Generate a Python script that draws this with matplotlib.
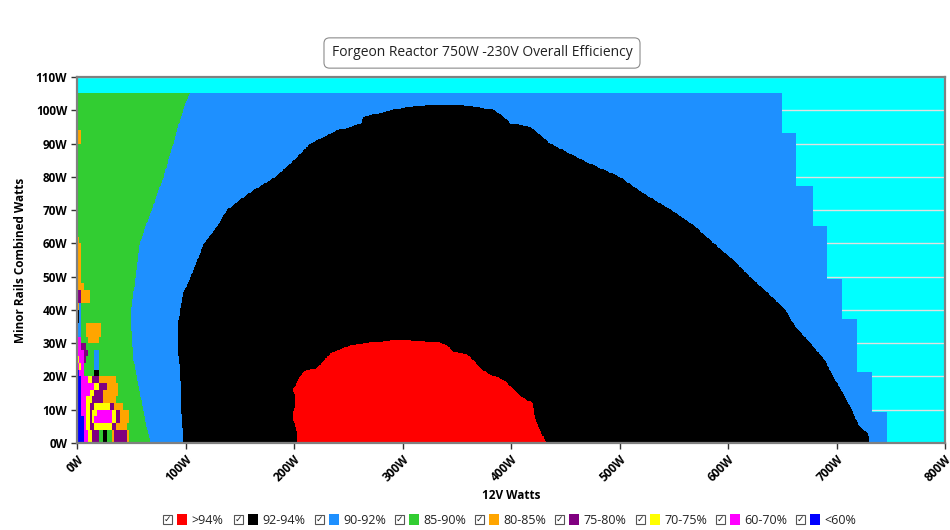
import numpy as np
import matplotlib
matplotlib.use('Agg')
import matplotlib.pyplot as plt
from matplotlib.colors import ListedColormap
from matplotlib.patches import Rectangle
from matplotlib.transforms import ScaledTranslation

plt.rcParams['font.family'] = ['Open Sans', 'DejaVu Sans']

title = 'Forgeon Reactor 750W -230V Overall Efficiency'

# efficiency bands, legend order
band_labels = ['>94%', '92-94%', '90-92%', '85-90%', '80-85%', '75-80%', '70-75%', '60-70%', '<60%']
band_colors = ['#FF0000', '#000000', '#1E90FF', '#32CD32', '#FFA500', '#800080', '#FFFF00', '#FF00FF', '#0000FF']
band_codes = 'RKBGOPYMN'

x_ticks = [0, 100, 200, 300, 400, 500, 600, 700, 800]
y_ticks = [0, 10, 20, 30, 40, 50, 60, 70, 80, 90, 100, 110]

# top of the measured area (minor rails W)
data_top = 105.3

# right edge of the measured area, stepped (step starts at edge_y)
edge_y = [0, 9.3, 21.3, 37.2, 49.2, 65.3, 77.3, 93.3]
edge_x = [747, 733, 719, 705, 691, 678, 663, 650]

# 85-90% -> 90-92% boundary
green_y = [0, 5, 10, 15, 20, 25, 30, 35, 40, 45, 50, 55, 60, 65, 70, 75, 80, 85, 90, 95, 100, 103, 105.3]
green_x = [68, 64, 61, 58, 55, 52, 51, 50, 50, 52, 54, 56, 58, 63, 69, 74, 80, 84, 89, 93, 98, 101, 104.5]

# 92-94% band, left and right edge per 12V level
black_y = [0, 3, 5, 10, 15, 20, 25, 30, 35, 40, 45, 50, 55, 60, 65, 70, 75, 80, 85, 90, 94, 95, 96, 98, 100, 101, 101.6]
black_left = [98, 98, 97, 96, 96, 95, 94, 93, 93, 95, 98, 105, 111, 117, 129, 138, 158, 183, 200, 215, 240, 252, 262, 264, 290, 304, 330]
black_right = [730, 729, 721, 714, 706, 697, 689, 676, 662, 653, 637, 620, 605, 587, 570, 548, 522, 500, 466, 436, 422, 418, 400, 393, 385, 369, 350]

# >94% band
red_y = [0, 3, 5, 8, 12, 14, 16, 19, 21, 22, 22.4, 25, 26.7, 27.4, 29.4, 30.4, 30.9]
red_left = [203, 203, 201, 199, 201, 201, 199, 204, 208, 212, 221, 228, 233, 236, 252, 276, 289]
red_right = [433, 428, 425, 422, 420, 409, 403, 393, 378, 374, 372, 365, 359, 347, 341, 332, 307]

# light-load corner, 2W x 2W cells, top row first ('.' = keep band above)
corner_rows = [
    'OO',        # 92-94
    'OO',        # 90-92
    '', '', '', '', '', '', '', '', '', '', '', '', '', '',
    'O',         # 60-62
    'OO', 'OO', 'OO', 'OO', 'OO', 'OO',
    'OOO',       # 46-48
    'PPOOOO',
    'PPOOOO',
    'OB',
    'KB',
    'KB',
    'BB..OOOOOOO',
    'BB..OOOOOOO',
    'MM...OOOOO',
    'MMPP',
    'MMMPP...BB',
    'YMMP....BB',
    'MYM.....BB',
    'NMM.....KK',
    'NNMMMYYPPPOOOOOOOO',
    'NNMMMMMMYYPPPPOOOOO',
    'NNMMMMYYPPPPOOOOOOO',
    'NNMMYYYPPPPPOOOOOO',
    'NNMMYYPPYYYYYYYPPOOOO',
    'NNMMYYPYYMMMMMMMYYPPOOOO',
    'NNNMYYPYMMMMMMMMYYPPOOOO',
    'NNNMYYPPYYYYYYYYPPOOOOO',
    'NNNMMYYPPPGGKKGGOPPPPPPO',
    'NNNMMYYPPPGGKKGGOPPPPPPO',  # 0-2
]


def build_map():
    xs = np.arange(0, 800, 0.5) + 0.25
    ys = np.arange(0, 110, 0.25) + 0.125
    X, Y = np.meshgrid(xs, ys)
    codes = np.full(X.shape, -1)

    step = np.searchsorted(edge_y, ys, side='right') - 1
    outer = np.array(edge_x)[step][:, None]
    inside = (X <= outer) & (Y <= data_top)
    codes[inside] = 2

    gx = np.interp(ys, green_y, green_x)[:, None]
    codes[inside & (X < gx)] = 3

    bl = np.interp(ys, black_y, black_left)[:, None]
    br = np.interp(ys, black_y, black_right)[:, None]
    codes[(Y <= black_y[-1]) & (X >= bl) & (X <= br)] = 1

    rl = np.interp(ys, red_y, red_left)[:, None]
    rr = np.interp(ys, red_y, red_right)[:, None]
    codes[(Y <= red_y[-1]) & (X >= rl) & (X <= rr)] = 0

    for r, row in enumerate(corner_rows[::-1]):
        for c, ch in enumerate(row):
            if ch == '.':
                continue
            cell = (X >= 2 * c) & (X < 2 * c + 2) & (Y >= 2 * r) & (Y < 2 * r + 2)
            codes[cell] = band_codes.index(ch)

    return np.ma.masked_less(codes, 0)


def px(x, y):
    return x / 950, 1 - y / 530


fig = plt.figure(figsize=(9.5, 5.3), dpi=100)
ax = fig.add_axes([77 / 950, 87 / 530, 868 / 950, 366 / 530])
ax.set_facecolor('#00FFFF')

ax.imshow(build_map(), origin='lower', extent=[0, 800, 0, 110], aspect='auto',
          interpolation='nearest', cmap=ListedColormap(band_colors),
          vmin=-0.5, vmax=8.5, zorder=1)

ax.set_xlim(0, 800)
ax.set_ylim(0, 110)
ax.set_axisbelow(True)
ax.yaxis.grid(True, color='#E0E0E0', linewidth=1)

ax.set_xticks(x_ticks)
ax.set_xticklabels([f'{v}W' for v in x_ticks], rotation=45, ha='right', va='top',
                   rotation_mode='anchor', fontweight='bold', fontsize=8.5)
shift = ScaledTranslation(-3 / 72, 0, fig.dpi_scale_trans)
for lab in ax.get_xticklabels():
    lab.set_transform(lab.get_transform() + shift)
ax.set_yticks(y_ticks)
ax.set_yticklabels([f'{v}W' for v in y_ticks], fontweight='bold', fontsize=8.5)
ax.tick_params(length=4, width=1, color='#333333', pad=3)

for s in ax.spines.values():
    s.set_color('#808080')
    s.set_linewidth(1.6)

ax.set_xlabel('12V Watts', fontweight='bold', fontsize=8.5)
ax.xaxis.set_label_coords(0.5, -0.125)
ax.set_ylabel('Minor Rails Combined Watts', fontweight='bold', fontsize=8.5)
ax.yaxis.set_label_coords(-0.058, 0.5)

# title box
fig.text(*px(482, 53), title, ha='center', va='center', fontsize=10, color='#222222',
         bbox=dict(boxstyle='round,pad=0.55,rounding_size=0.4', fc='white', ec='#8C8C8C', lw=0.8))

# legend with checkboxes
leg_left = [163, 234, 315, 395, 475, 555, 636, 716, 796]
for lx, lab, col in zip(leg_left, band_labels, band_colors):
    fig.add_artist(Rectangle(px(lx, 524), 9 / 950, 9 / 530, transform=fig.transFigure,
                             fc='white', ec='#555555', lw=0.8))
    fig.text(*px(lx + 4.7, 519.5), '\u2713', ha='center', va='center', fontsize=6.5,
             family='DejaVu Sans', color='#222222')
    fig.add_artist(Rectangle(px(lx + 14, 525), 10 / 950, 11 / 530, transform=fig.transFigure,
                             fc=col, ec='none'))
    fig.text(*px(lx + 28, 520), lab, ha='left', va='center', fontsize=9, color='#222222')

plt.savefig('out.png', dpi=100)
plt.close()
